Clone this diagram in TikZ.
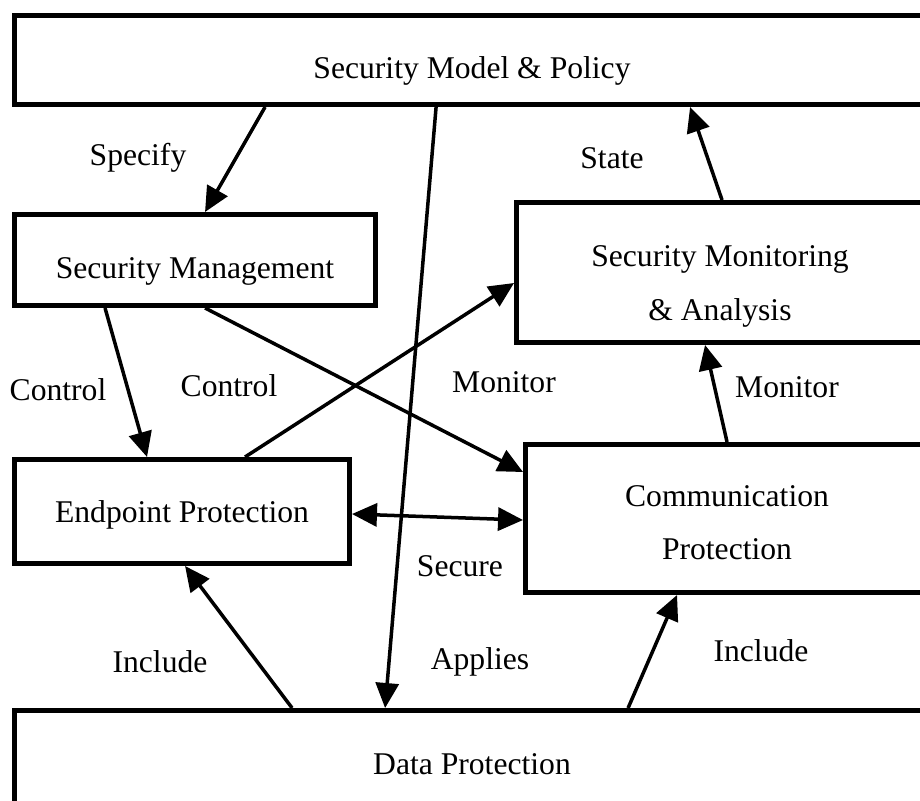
\documentclass[tikz,border=0pt]{standalone}
\usepackage{fontspec}
\setmainfont{Liberation Serif}
\usetikzlibrary{arrows.meta, calc}
\tikzstyle{block} = [rectangle, draw, line width=0.1cm, fill=white, inner sep=0pt, align=center, font=\fontsize{18}{30.6}\selectfont]
\tikzstyle{tag} = [inner sep=0pt, font=\fontsize{18}{21.6}\selectfont]
\tikzstyle{arrow} = [line width=0.07cm, -{Triangle[length=0.5cm,width=0.46cm]}]
\tikzstyle{dblarrow} = [line width=0.07cm, {Triangle[length=0.5cm,width=0.46cm]}-{Triangle[length=0.5cm,width=0.46cm]}]

\begin{document}
\begin{tikzpicture}[x=0.02cm, y=-0.02cm]
            \clip (0,0) rectangle (920,801);
            \node [block, minimum width=18.3cm, minimum height=1.78cm, text height=0.74cm, text depth=0pt] at (472,60) (model) {Security Model \& Policy};
            \node [block, minimum width=7.22cm, minimum height=1.82cm, text height=0.74cm, text depth=0pt] at (195,260) (mgmt) {Security Management};
            \node [block, minimum width=8.14cm, minimum height=2.8cm, text height=54.5pt, text depth=0pt] at (720,272.5) (monitor) {Security Monitoring\\\& Analysis};
            \node [block, minimum width=8.06cm, minimum height=2.96cm, text height=47pt, text depth=0pt] at (727,518.5) (comm) {Communication\\Protection};
            \node [block, minimum width=6.7cm, minimum height=2.08cm, text height=0.42cm, text depth=0pt] at (182,511.5) (endpoint) {Endpoint Protection};
            \node [block, minimum width=18.3cm, minimum height=2.14cm] at (472,764) (data) {Data Protection};
            % connectors
            \draw [arrow] ($(model.south west)+(253,0)$) -- ($(mgmt.north west)+(193,0)$);
            \draw [arrow] ($(model.south west)+(424,0)$) -- ($(data.north west)+(373,0)$);
            \draw [arrow] ($(monitor.north west)+(208,0)$) -- ($(model.south west)+(678,0)$);
            \draw [arrow] ($(mgmt.south west)+(93,0)$) -- ($(endpoint.north west)+(135,0)$);
            \draw [arrow] ($(mgmt.south west)+(193,0)$) -- ($(comm.north west)+(0,30)$);
            \draw [arrow] ($(endpoint.north west)+(233,0)$) -- ($(monitor.north west)+(0,83)$);
            \draw [arrow] ($(comm.north west)+(204,0)$) -- ($(monitor.south west)+(191,0)$);
            \draw [dblarrow] ($(endpoint.north east)+(0,57)$) -- ($(comm.north west)+(0,78)$);
            \draw [arrow] ($(data.north west)+(280,0)$) -- ($(endpoint.south west)+(173,0)$);
            \draw [arrow] ($(data.north west)+(616,0)$) -- ($(comm.south west)+(154,0)$);
            % labels
            \node [tag] at (138,158) (specify) {Specify};
            \node [tag] at (612,158) (state) {State};
            \node [tag] at (58,390) (ctrl1) {Control};
            \node [tag] at (229,386) (ctrl2) {Control};
            \node [tag] at (504,382) (mon1) {Monitor};
            \node [tag] at (787,387) (mon2) {Monitor};
            \node [tag] at (460,566) (secure) {Secure};
            \node [tag] at (160,662) (incl1) {Include};
            \node [tag] at (480,662) (applies) {Applies};
            \node [tag] at (761,651) (incl2) {Include};
\end{tikzpicture}
\end{document}
